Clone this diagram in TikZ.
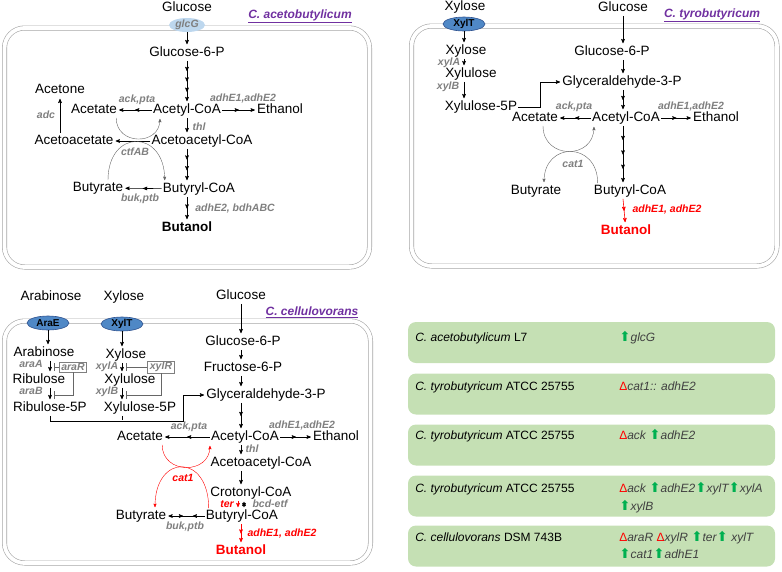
\documentclass[tikz,border=0pt]{standalone}
\usepackage{fontspec}
\setmainfont{Liberation Sans}
\newfontfamily\symfont{DejaVu Sans}
\usetikzlibrary{arrows,arrows.meta,shapes.geometric,decorations.markings}

\definecolor{lblgray}{HTML}{7F7F7F}
\definecolor{cellgray}{HTML}{A6A6A6}
\definecolor{titlepurple}{HTML}{7030A0}
\definecolor{boxgreen}{HTML}{C5E0B4}
\definecolor{upgreen}{HTML}{00B050}
\definecolor{genegray}{HTML}{404040}
\definecolor{lightblue}{HTML}{BDD7EE}
\definecolor{midblue}{HTML}{4F88C6}
\definecolor{darkblue}{HTML}{2F528F}

\newcommand{\upreg}{{\symfont\upshape\fontsize{13.5}{14}\selectfont\color{upgreen}⬆}}
\newcommand{\delgene}{{\upshape\color{red}Δ}}

\begin{document}
\begin{tikzpicture}[x=1pt,y=-1pt,->,>=stealth',shorten >=1pt,semithick,
		met/.style={font=\fontsize{13.5}{15}\selectfont,inner sep=1pt,text height=10pt,text depth=3pt},
		prod/.style={met,font=\fontsize{13.5}{15}\selectfont\bfseries},
		enz/.style={font=\fontsize{10.5}{12}\selectfont\bfseries\itshape,text=lblgray,inner sep=0pt},
		renz/.style={enz,text=red},
		title/.style={font=\fontsize{12}{14}\selectfont\bfseries\itshape,text=titlepurple},
		cell/.style={-,draw=cellgray,double,double distance=3.8pt,rounded corners=20pt},
		port/.style={ellipse,draw=darkblue,fill=midblue,font=\fontsize{10}{12}\selectfont\bfseries,
			minimum width=42pt,minimum height=14pt,inner sep=0pt},
		lport/.style={ellipse,fill=lightblue,font=\fontsize{10.5}{12}\selectfont\bfseries\itshape,
			text=lblgray,minimum width=36pt,minimum height=14pt,inner sep=0pt},
		rbox/.style={enz,draw=lblgray,thin,minimum width=27pt,minimum height=10pt,inner sep=1pt},
		curve/.style={draw=black!60,thin},
		inh/.style={-{Bar[width=8pt]},shorten >=0pt,draw=black!60,thin},
		heads/.style={postaction={decorate,decoration={markings,
			mark=between positions #1 and 0.99 step #1 with {\arrow{stealth'}}}}},
		gbox/.style={fill=boxgreen,rounded corners=8pt,minimum width=367pt,minimum height=41pt,inner sep=0pt},
		strain/.style={font=\fontsize{12}{14}\selectfont,anchor=base west,inner sep=0pt},
		gene/.style={strain,font=\fontsize{12}{14}\selectfont\itshape,text=genegray}]

		\useasboundingbox (0,0) rectangle (782,571);

		% C. acetobutylicum
		\draw[cell] (4.5,28) rectangle (369.5,267);
		\node[title] (TA) at (300,16) {\underline{C. acetobutylicum}};
		\node[met] (A1) at (187,8) {Glucose};
		\node[lport] (A2) at (187,25) {glcG};
		\node[met] (A3) at (187,53) {Glucose-6-P};
		\node[met] (A4) at (187,110) {Acetyl-CoA};
		\node[met] (A5) at (94,110) {Acetate};
		\node[met] (A6) at (60,90) {Acetone};
		\node[met] (A7) at (280,110) {Ethanol};
		\node[met] (A8) at (202,141) {Acetoacetyl-CoA};
		\node[met] (A9) at (74,141) {Acetoacetate};
		\node[met] (A10) at (98,188) {Butyrate};
		\node[met] (A11) at (199,189) {Butyryl-CoA};
		\node[prod] (A12) at (187,228) {Butanol};

		\node[enz] (LA1) at (137,100) {ack,pta};
		\node[enz] (LA2) at (243,99) {adhE1,adhE2};
		\node[enz] (LA3) at (46,115) {adc};
		\node[enz] (LA4) at (199,127) {thl};
		\node[enz] (LA5) at (135,152) {ctfAB};
		\node[enz] (LA6) at (140,199) {buk,ptb};
		\node[enz] (LA7) at (235,209) {adhE2, bdhABC};

		\draw (A2) -- (A3);
		\draw[heads=0.25] (A3) -- (A4);
		\draw[heads=0.5] (A4) -- (A5);
		\draw[heads=0.5] (A4) -- (A7);
		\draw (A4.south) -- (A8.north -| A4);
		\draw (A8) -- (A9);
		\draw (A9.north -| A6) -- (A6);
		\draw[heads=0.333] (A8.south -| A4) -- (A11.north -| A4);
		\draw[heads=0.5] (A11) -- (A10);
		\draw[heads=0.5] (A11.south -| A4) -- (A12);
		\draw[curve] ([xshift=-2pt]A5.south east) .. controls +(0,28) and +(0,28) .. ([xshift=8pt]A4.south west);
		\draw[curve] ([xshift=10pt]A10.north) .. controls +(0,-52) and +(0,-52) .. ([xshift=3pt]A11.north west);

		% C. tyrobutyricum
		\draw[cell] (411.5,26) rectangle (777,266);
		\node[title] (TB) at (712,15) {\underline{C. tyrobutyricum}};
		\node[met] (B1) at (465,7) {Xylose};
		\node[port] (B2) at (464,24) {XylT};
		\node[met] (B3) at (623,8) {Glucose};
		\node[met] (B4) at (466,51) {Xylose};
		\node[met] (B5) at (471,74) {Xylulose};
		\node[met] (B6) at (481,107) {Xylulose-5P};
		\node[met] (B7) at (612,52) {Glucose-6-P};
		\node[met] (B8) at (622,82) {Glyceraldehyde-3-P};
		\node[met] (B9) at (626,118) {Acetyl-CoA};
		\node[met] (B10) at (535,118) {Acetate};
		\node[met] (B11) at (716,118) {Ethanol};
		\node[met] (B12) at (630,191) {Butyryl-CoA};
		\node[met] (B13) at (536,191) {Butyrate};
		\node[prod,text=red] (B14) at (626,231) {Butanol};

		\node[enz] (LB1) at (449,63) {xylA};
		\node[enz] (LB2) at (448,87) {xylB};
		\node[enz] (LB3) at (574,107) {ack,pta};
		\node[enz] (LB4) at (691,107) {adhE1,adhE2};
		\node[enz] (LB5) at (573,164) {cat1};
		\node[renz] (LB6) at (667,210) {adhE1, adhE2};

		\draw (B2.south) -- (B4.north -| B2);
		\draw (B4.south -| B2) -- (B5.north -| B2);
		\draw (B5.south -| B2) -- (B6.north -| B2);
		\draw (B6.east) -- ++(22,0) |- (B8.west);
		\draw (B3.south) -- (B7.north -| B3);
		\draw (B7.south -| B3) -- (B8.north -| B3);
		\draw[heads=0.5] (B8.south -| B3) -- (B9.north -| B3);
		\draw[heads=0.5] (B9) -- (B10);
		\draw[heads=0.5] (B9) -- (B11);
		\draw[heads=0.25] (B9.south -| B3) -- (B12.north -| B3);
		\draw[red,heads=0.5] (B12.south -| B3) -- (B14);
		\draw[curve] ([xshift=8pt]B10.south) .. controls +(0,34) and +(0,34) .. ([xshift=3pt]B9.south west);
		\draw[curve] ([xshift=5pt]B12.north west) .. controls +(0,-42) and +(0,-42) .. ([xshift=8pt]B13.north);

		% C. cellulovorans
		\draw[cell] (4.5,321) rectangle (370.5,563);
		\node[title] (TC) at (312,312) {\underline{C. cellulovorans}};
		\node[met] (C1) at (51,297) {Arabinose};
		\node[port] (C2) at (48,323) {AraE};
		\node[met] (C3) at (124,297) {Xylose};
		\node[port] (C4) at (122,324) {XylT};
		\node[met] (C5) at (241,296) {Glucose};
		\node[met] (C6) at (44,353) {Arabinose};
		\node[met] (C7) at (39,380) {Ribulose};
		\node[met] (C8) at (50,408) {Ribulose-5P};
		\node[rbox] (C9) at (73,367) {araR};
		\node[met] (C10) at (126,355) {Xylose};
		\node[met] (C11) at (130,380) {Xylulose};
		\node[met] (C12) at (140,408) {Xylulose-5P};
		\node[rbox] (C13) at (161,367) {xylR};
		\node[met] (C14) at (243,342) {Glucose-6-P};
		\node[met] (C15) at (243,368) {Fructose-6-P};
		\node[met] (C16) at (266,395) {Glyceraldehyde-3-P};
		\node[met] (C17) at (245,437) {Acetyl-CoA};
		\node[met] (C18) at (140,437) {Acetate};
		\node[met] (C19) at (336,437) {Ethanol};
		\node[met] (C20) at (261,463) {Acetoacetyl-CoA};
		\node[met] (C21) at (251,493) {Crotonyl-CoA};
		\node[met] (C22) at (242,516) {Butyryl-CoA};
		\node[met] (C23) at (141,516) {Butyrate};
		\node[prod,text=red] (C24) at (241,551) {Butanol};

		\node[enz] (LC1) at (31,364) {araA};
		\node[enz] (LC2) at (31,391) {araB};
		\node[enz] (LC3) at (107,367) {xylA};
		\node[enz] (LC4) at (107,392) {xylB};
		\node[enz] (LC5) at (189,427) {ack,pta};
		\node[enz] (LC6) at (302,426) {adhE1,adhE2};
		\node[enz] (LC7) at (252,449) {thl};
		\node[renz] (LC8) at (227,504) {ter};
		\node[enz] (LC9) at (270,504) {bcd-etf};
		\node[renz] (LC10) at (183,478) {cat1};
		\node[enz] (LC11) at (185,527) {buk,ptb};
		\node[renz] (LC12) at (282,533) {adhE1, adhE2};

		\coordinate (R1) at (53.5,367);
		\coordinate (R2) at (53.5,395);
		\coordinate (X1) at (125.5,367);
		\coordinate (X2) at (125.5,395);
		\coordinate (J1) at (183,421);
		\coordinate (TR) at (238,0);
		\coordinate (BE) at (244,0);

		\draw (C2.south) -- (C6.north -| C2);
		\draw (C4.south) -- (C10.north -| C4);
		\draw (C6.south -| C8) -- (C7.north -| C8);
		\draw (C7.south -| C8) -- (C8.north);
		\draw (C10.south -| C4) -- (C11.north -| C4);
		\draw (C11.south -| C4) -- (C12.north -| C4);
		\draw[inh] (C9.west) -- (R1);
		\draw[inh] (C9.south) |- (R2);
		\draw[inh] (C13.west) -- (X1);
		\draw[inh] (C13.south) |- (X2);
		\draw (C8.south) |- (J1) |- (C16.west);
		\draw[-] (C12.south -| C4) -- (C4 |- J1);

		\draw (C5.south) -- (C14.north -| C5);
		\draw (C14.south -| C5) -- (C15.north -| C5);
		\draw (C15.south -| C5) -- (C16.north -| C5);
		\draw[heads=0.5] (C16.south -| C5) -- (C17.north -| C5);
		\draw[heads=0.5] (C17) -- (C18);
		\draw[heads=0.5] (C17) -- (C19);
		\draw (C17.south -| C5) -- (C20.north -| C5);
		\draw (C20.south -| C5) -- (C21.north -| C5);
		\draw[red] (C21.south -| TR) -- (C22.north -| TR);
		\draw[<->,shorten <=1pt] (C21.south -| BE) -- (C22.north -| BE);
		\draw[postaction={decorate,decoration={markings,
			mark=at position 0.32 with {\arrow{stealth'}},
			mark=at position 0.58 with {\arrowreversed{stealth'}}}}] (C22) -- (C23);
		\draw[red,heads=0.5] (C22.south -| C5) -- (C24);
		\draw[red,thin] ([xshift=-2pt]C18.south east) .. controls +(0,30) and +(0,30) .. (C17.south west);
		\draw[red,thin] ([xshift=4pt]C22.north west) .. controls +(0,-55) and +(0,-55) .. ([xshift=14pt]C23.north);

		% engineered strains
		\node[gbox] (D1) at (591.5,342.5) {};
		\node[gbox] (D2) at (591.5,394) {};
		\node[gbox] (D3) at (591.5,445) {};
		\node[gbox] (D4) at (591.5,496) {};
		\node[gbox] (D5) at (591.5,546) {};

		\node[strain] (S1) at (415,341) {\textit{C. acetobutylicum} L7};
		\node[strain] (S2) at (415,390) {\textit{C. tyrobutyricum} ATCC 25755};
		\node[strain] (S3) at (415,439) {\textit{C. tyrobutyricum} ATCC 25755};
		\node[strain] (S4) at (415,492) {\textit{C. tyrobutyricum} ATCC 25755};
		\node[strain] (S5) at (415,541) {\textit{C. cellulovorans} DSM 743B};

		\node[gene] (M1) at (619,341) {\upreg glcG};
		\node[gene] (M2) at (619,390) {\delgene cat1:: adhE2};
		\node[gene] (M3) at (619,439) {\delgene ack \upreg adhE2};
		\node[gene] (M4) at (619,492) {\delgene ack \upreg adhE2\upreg xylT\upreg xylA};
		\node[gene] (M5) at (619,510) {\upreg xylB};
		\node[gene] (M6) at (619,541) {\delgene araR \delgene xylR \upreg ter\upreg\ xylT};
		\node[gene] (M7) at (619,558) {\upreg cat1\upreg adhE1};

\end{tikzpicture}
\end{document}
